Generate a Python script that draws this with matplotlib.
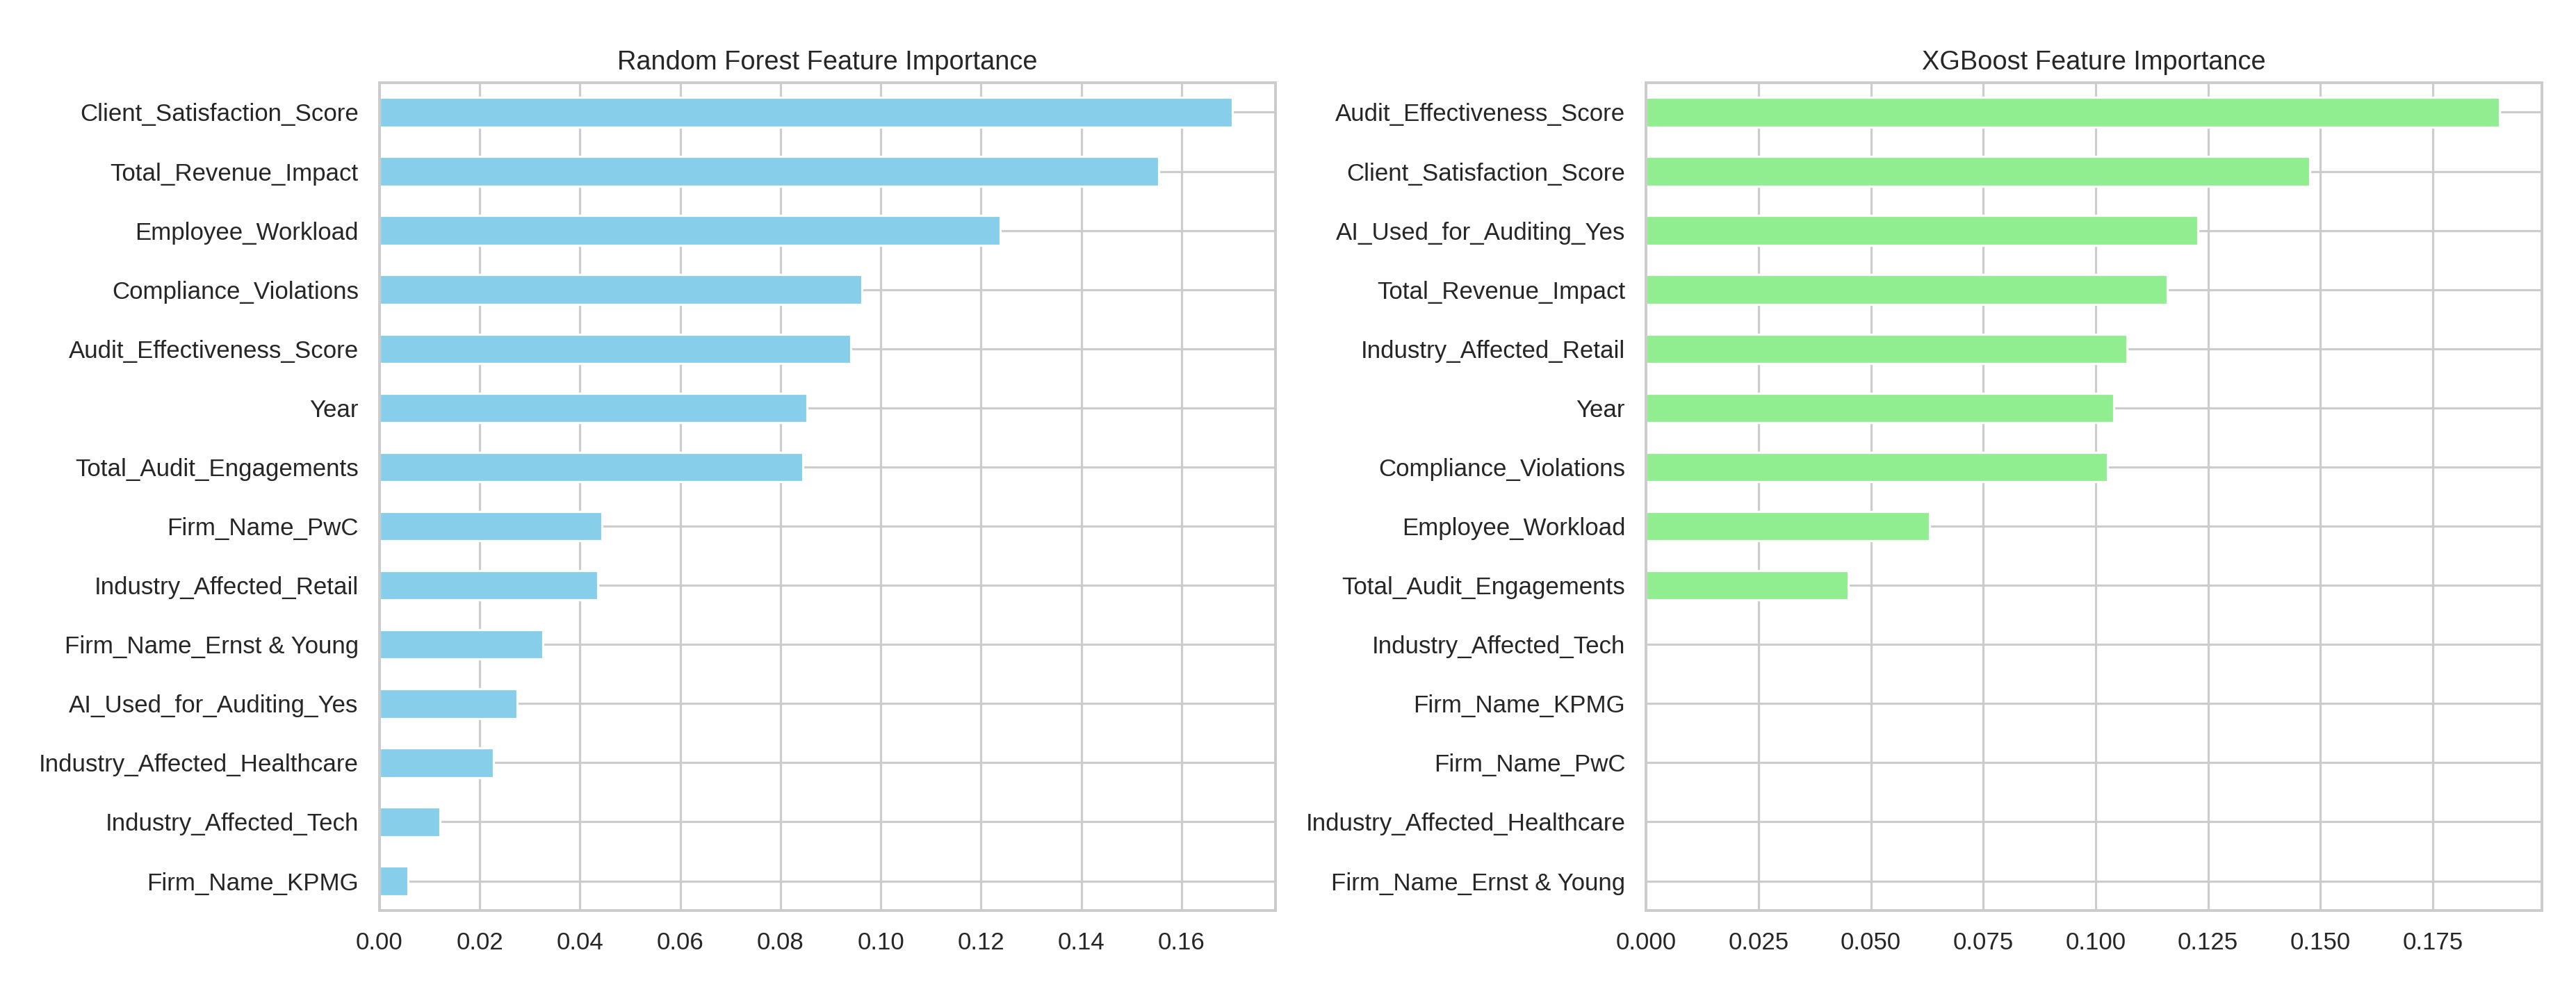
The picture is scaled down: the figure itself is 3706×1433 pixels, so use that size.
import numpy as np
import matplotlib
matplotlib.use("Agg")
import matplotlib.pyplot as plt
import seaborn as sns

sns.set_theme(style="whitegrid")
plt.rcParams["font.family"] = ["Liberation Sans", "DejaVu Sans"]

# Random Forest importances (sorted ascending, bottom -> top)
rf_features = [
    "Firm_Name_KPMG",
    "Industry_Affected_Tech",
    "Industry_Affected_Healthcare",
    "AI_Used_for_Auditing_Yes",
    "Firm_Name_Ernst & Young",
    "Industry_Affected_Retail",
    "Firm_Name_PwC",
    "Total_Audit_Engagements",
    "Year",
    "Audit_Effectiveness_Score",
    "Compliance_Violations",
    "Employee_Workload",
    "Total_Revenue_Impact",
    "Client_Satisfaction_Score",
]
rf_importance = [0.0057, 0.0121, 0.0228, 0.0275, 0.0326, 0.0436, 0.0444,
                 0.0844, 0.0853, 0.0940, 0.0963, 0.1238, 0.1554, 0.1702]

# XGBoost importances (sorted ascending, bottom -> top)
xgb_features = [
    "Firm_Name_Ernst & Young",
    "Industry_Affected_Healthcare",
    "Firm_Name_PwC",
    "Firm_Name_KPMG",
    "Industry_Affected_Tech",
    "Total_Audit_Engagements",
    "Employee_Workload",
    "Compliance_Violations",
    "Year",
    "Industry_Affected_Retail",
    "Total_Revenue_Impact",
    "AI_Used_for_Auditing_Yes",
    "Client_Satisfaction_Score",
    "Audit_Effectiveness_Score",
]
xgb_importance = [0.0, 0.0, 0.0, 0.0, 0.0, 0.0449, 0.0631,
                  0.1027, 0.1040, 0.1069, 0.1159, 0.1227, 0.1477, 0.1898]

DPI = 228
fig, axes = plt.subplots(1, 2, figsize=(3706 / DPI, 1433 / DPI))
fig.subplots_adjust(left=0.1473, right=0.9868, bottom=0.0858, top=0.917, wspace=0.414)

panels = [
    (axes[0], rf_features, rf_importance, "skyblue", "Random Forest Feature Importance"),
    (axes[1], xgb_features, xgb_importance, "lightgreen", "XGBoost Feature Importance"),
]
for ax, feats, vals, col, title in panels:
    y = np.arange(len(feats))
    ax.barh(y, vals, height=0.5, color=col)
    ax.set_yticks(y)
    ax.set_yticklabels(feats)
    ax.set_ylim(-0.5, len(feats) - 0.5)
    ax.set_title(title)

axes[1].set_xticks([0, 0.025, 0.05, 0.075, 0.1, 0.125, 0.15, 0.175])
axes[1].set_xticklabels(["0.000", "0.025", "0.050", "0.075", "0.100", "0.125", "0.150", "0.175"])

plt.savefig("out.png", dpi=DPI)
plt.close()
